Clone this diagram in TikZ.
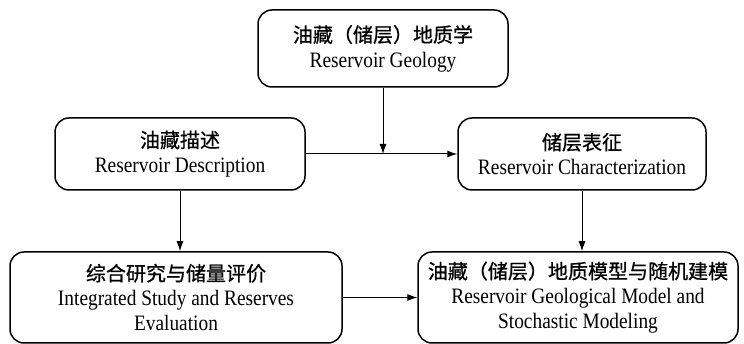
\documentclass[tikz,border=0pt]{standalone}
\usepackage{fontspec}
\setmainfont{Liberation Serif}[FakeStretch=0.88]
\newfontfamily\cjk{Noto Sans CJK SC}[Scale=0.91, FakeBold=0.8]
\usetikzlibrary{arrows.meta}

\begin{document}
\begin{tikzpicture}[x=1pt,y=-1pt,
	box/.style={draw, line width=1.5, rounded corners=14, align=center, inner sep=0,
		font=\fontsize{22}{25}\selectfont},
	conn/.style={line width=1, -{Latex[length=10,width=7]}}]

		\useasboundingbox (0,0) rectangle (744,344);

		% make the boxes
		\node[box, minimum width=250, minimum height=77] (geo) at (383,48.5) {{\cjk 油藏（储层）地质学}\\Reservoir Geology};
		\node[box, minimum width=250, minimum height=72] (desc) at (180,154) {{\cjk 油藏描述}\\Reservoir Description};
		\node[box, minimum width=248, minimum height=72] (char) at (582,154) {{\cjk 储层表征}\\Reservoir Characterization};
		\node[box, minimum width=332, minimum height=91] (integ) at (176,297.5) {{\cjk 综合研究与储量评价}\\Integrated Study and Reserves\\Evaluation};
		\node[box, minimum width=320, minimum height=91] (model) at (578,297.5) {{\cjk 油藏（储层）地质模型与随机建模}\\Reservoir Geological Model and\\Stochastic Modeling};

		% make the arrows
		\draw[conn] (desc.east) -- (char.west);
		\draw[conn] (geo.south) -- (geo.south |- desc.east);
		\draw[conn] (desc.south) -- (desc.south |- integ.north);
		\draw[conn] (char.south) -- (char.south |- model.north);
		\draw[conn] (integ.east) -- (model.west);

\end{tikzpicture}
\end{document}
